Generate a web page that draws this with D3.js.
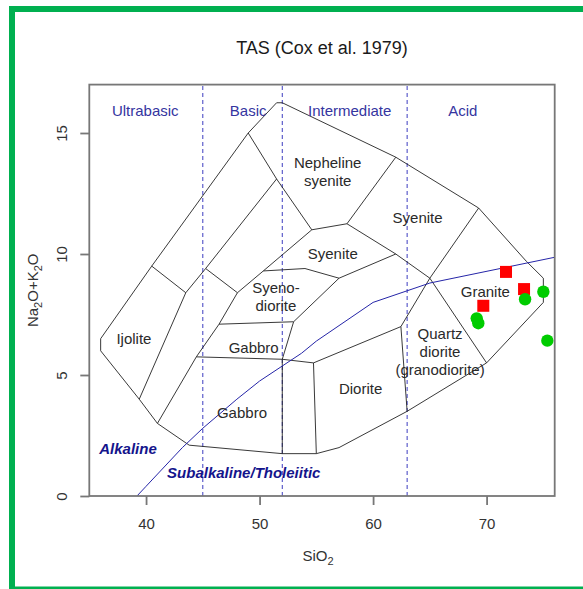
<!DOCTYPE html>
<html><head><meta charset="utf-8">
<script src="https://cdn.jsdelivr.net/npm/d3@7"></script>
<style>
body{margin:0;background:#fff;}
svg{display:block;font-family:"Liberation Sans",Arial,sans-serif;}
</style>
</head><body>
<svg id="c" width="583" height="589"></svg>
<script>
// ---------- data ----------
const xTicks = [40, 50, 60, 70];
const yTicks = [0, 5, 10, 15];
const divisionsSiO2 = [45, 52, 63];
const groupNames = ["Ultrabasic", "Basic", "Intermediate", "Acid"];
const groupSiO2 = [39.93, 49.0, 57.94, 67.91];
const groupAlk = 15.92;

// outer boundary of the Cox et al. (1979) field diagram (SiO2, Na2O+K2O)
const outline = [[36,6.5],[36,6],[39.4,4],[41,3],[43.8,2.1],[52,1.75],[55,1.75],[57,2],[63,3.5],[70,5.5],[75,8],[75,9],[73.5,9.7],[69.3,11.9],[62,14],[52,16.25],[51.5,16.25],[49,15],[40.5,9.5],[36,6.5]];
// internal boundaries
const innerLines = [
  [[40.5,9.5],[43.5,8.4],[39.4,4]],
  [[43.5,8.4],[45.25,9.4],[51.5,13.1]],
  [[45.25,9.4],[48.05,8.4]],
  [[49,15],[51.5,13.1],[54.6,11]],
  [[54.6,11],[50.33,9.3],[48.05,8.4],[46.43,7.1],[44.43,5.75],[41,3]],
  [[54.6,11],[57.7,11.25],[62,14]],
  [[57.7,11.25],[62,10],[65,9],[70,5.5]],
  [[69.3,11.9],[65,9],[62.45,7],[63,3.5]],
  [[50.33,9.3],[54,9.4],[57,9],[62,10]],
  [[57,9],[53,7.2],[52,5.65]],
  [[46.43,7.1],[53,7.2]],
  [[44.43,5.75],[52,5.65],[54.75,5.5],[62.45,7]],
  [[54.75,5.5],[55,1.75]],
  [[52,5.65],[52,1.75]]
];
// alkaline / subalkaline divide (Irvine & Baragar 1971)
const alkSiO2 = [39.2,40,43.2,45,48,50,53.7,55,60,65,77.4];
const alkTotal = [0,0.4,2,2.8,4,4.75,5.9,6.4,8,8.8,10];

// field names
const fieldNames = ["Ijolite","Nepheline","syenite","Syenite","Syenite","Syeno-","diorite","Gabbro","Gabbro","Diorite","Quartz","diorite","(granodiorite)","Granite"];
const fieldSiO2  = [38.93, 56.0, 56.0, 63.92, 56.45, 51.44, 51.44, 49.48, 48.45, 58.9, 65.9, 65.9, 65.9, 69.89];
const fieldAlk   = [6.49, 13.79, 13.03, 11.5, 10.03, 8.62, 7.85, 6.14, 3.46, 4.45, 6.72, 5.96, 5.21, 8.44];

const seriesNames = ["Alkaline", "Subalkaline/Tholeiitic"];
const seriesSiO2 = [38.41, 48.61];
const seriesAlk = [1.94, 0.96];

// samples
const redSiO2 = [71.71, 73.3, 69.71];
const redAlk  = [9.26, 8.55, 7.86];
const greenSiO2 = [73.39, 75.0, 69.13, 69.27, 75.35];
const greenAlk  = [8.13, 8.44, 7.34, 7.14, 6.42];

// ---------- drawing ----------
const svg = d3.select("#c");
const L = 89.3, R = 554.7, T = 84.6, B = 496;
const x = d3.scaleLinear().domain([35, 76]).range([L, R]);
const y = d3.scaleLinear().domain([0, 17]).range([B, T]);

// green frame
svg.append("rect").attr("x", 12).attr("y", 9).attr("width", 640).attr("height", 580.5)
  .attr("fill", "none").attr("stroke", "#00b050").attr("stroke-width", 6);

svg.append("defs").append("clipPath").attr("id", "pc")
  .append("rect").attr("x", L).attr("y", T).attr("width", R - L).attr("height", B - T);

const plot = svg.append("g").attr("clip-path", "url(#pc)");
const line = d3.line().x(d => x(d[0])).y(d => y(d[1]));

// division dashed lines
plot.selectAll("line.div").data(divisionsSiO2).enter().append("line")
  .attr("x1", d => x(d)).attr("x2", d => x(d)).attr("y1", y(0)).attr("y2", y(17))
  .attr("stroke", "#3c3cc0").attr("stroke-width", 1).attr("stroke-dasharray", "4,3");

// field boundaries
plot.append("path").attr("d", line(outline)).attr("fill", "none").attr("stroke", "#222").attr("stroke-width", 0.9);
plot.selectAll("path.in").data(innerLines).enter().append("path")
  .attr("d", d => line(d)).attr("fill", "none").attr("stroke", "#222").attr("stroke-width", 0.9);

// alkaline line
plot.append("path").attr("d", line(alkSiO2.map((v, i) => [v, alkTotal[i]])))
  .attr("fill", "none").attr("stroke", "#2525a8").attr("stroke-width", 1);

// group labels
svg.selectAll("text.grp").data(groupNames).enter().append("text")
  .attr("x", (d, i) => x(groupSiO2[i])).attr("y", y(groupAlk)).attr("dy", "0.35em")
  .attr("text-anchor", "middle").attr("font-size", 15).attr("fill", "#35359f").text(d => d);

// field labels
svg.selectAll("text.fld").data(fieldNames).enter().append("text")
  .attr("x", (d, i) => x(fieldSiO2[i])).attr("y", (d, i) => y(fieldAlk[i])).attr("dy", "0.35em")
  .attr("text-anchor", "middle").attr("font-size", 15).attr("fill", "#2a2a2a").text(d => d);

// series labels
svg.selectAll("text.ser").data(seriesNames).enter().append("text")
  .attr("x", (d, i) => x(seriesSiO2[i])).attr("y", (d, i) => y(seriesAlk[i])).attr("dy", "0.35em")
  .attr("text-anchor", "middle").attr("font-size", 15).attr("font-weight", "bold").attr("font-style", "italic")
  .attr("fill", "#14148c").text(d => d);

// samples
svg.selectAll("rect.red").data(redSiO2).enter().append("rect")
  .attr("x", (d, i) => x(d) - 6).attr("y", (d, i) => y(redAlk[i]) - 6)
  .attr("width", 12).attr("height", 12).attr("fill", "#ff0000");
svg.selectAll("circle.grn").data(greenSiO2).enter().append("circle")
  .attr("cx", d => x(d)).attr("cy", (d, i) => y(greenAlk[i])).attr("r", 6.2).attr("fill", "#00cc00");

// box
svg.append("rect").attr("x", L).attr("y", T).attr("width", R - L).attr("height", B - T)
  .attr("fill", "none").attr("stroke", "#777").attr("stroke-width", 1.8);

// axes
const ax = svg.append("g").attr("transform", `translate(0,${B})`)
  .call(d3.axisBottom(x).tickValues(xTicks).tickSize(9).tickPadding(13));
const ay = svg.append("g").attr("transform", `translate(${L},0)`)
  .call(d3.axisLeft(y).tickValues(yTicks).tickSize(9));
[ax, ay].forEach(g => {
  g.select(".domain").remove();
  g.selectAll(".tick line").attr("stroke", "#777").attr("stroke-width", 1.8);
  g.selectAll(".tick text").attr("font-size", 15).attr("fill", "#333").attr("font-family", "Liberation Sans, Arial, sans-serif");
});
ay.selectAll(".tick text").attr("x", 0).attr("dy", "0.35em").attr("text-anchor", "middle")
  .attr("transform", "translate(-27.6,0) rotate(-90)");

// title
svg.append("text").attr("x", (L + R) / 2).attr("y", 54).attr("text-anchor", "middle")
  .attr("font-size", 18).attr("fill", "#1a1a1a").text("TAS (Cox et al. 1979)");

// x label
const xl = svg.append("text").attr("x", (L + R) / 2 - 4).attr("y", 561).attr("text-anchor", "middle")
  .attr("font-size", 15).attr("fill", "#333");
xl.append("tspan").text("SiO");
xl.append("tspan").attr("dy", 4).attr("font-size", 11).text("2");

// y label
const yl = svg.append("text").attr("transform", `translate(38,${(T + B) / 2}) rotate(-90)`)
  .attr("text-anchor", "middle").attr("font-size", 15).attr("fill", "#333");
yl.append("tspan").text("Na");
yl.append("tspan").attr("dy", 4).attr("font-size", 11).text("2");
yl.append("tspan").attr("dy", -4).text("O+K");
yl.append("tspan").attr("dy", 4).attr("font-size", 11).text("2");
yl.append("tspan").attr("dy", -4).text("O");
</script>
</body></html>
